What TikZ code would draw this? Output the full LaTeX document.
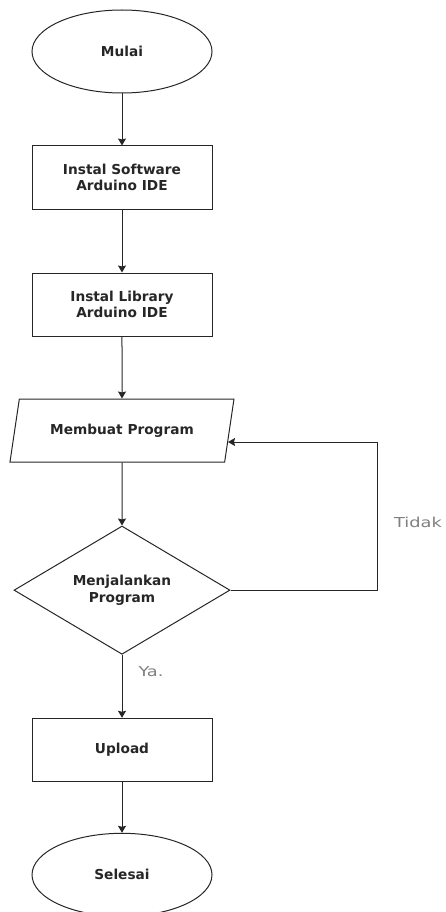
\documentclass[tikz,border=0pt]{standalone}
\usepackage{fontspec}
\setmainfont{DejaVu Sans}
\newfontfamily\answerfont[FakeStretch=1.3]{DejaVu Sans}
\usetikzlibrary{arrows.meta,shapes,positioning}

\begin{document}
\begin{tikzpicture}[x=1pt,y=1pt,node distance=63pt,>={Stealth[width=8pt,length=7pt,inset=1pt]}]
  \tikzstyle{terminal}=[ellipse,draw=black!85,line width=1pt,minimum width=180pt,
                        minimum height=83pt,align=center,text=black!85,
                        font=\fontsize{13.7}{16.5}\selectfont\bfseries]
  \tikzstyle{process}=[terminal,rectangle,minimum height=63pt]
  \tikzstyle{io}=[process,trapezium,trapezium left angle=65,trapezium right angle=115,
                  trapezium stretches body,minimum width=224pt]
  \tikzstyle{decision}=[process,diamond,minimum width=216pt,minimum height=126pt,inner sep=0pt]
  \tikzstyle{pre}=[<-,line width=1pt,draw=black!85]
  \tikzstyle{answer}=[text=black!50,inner sep=0pt,font=\answerfont\fontsize{13.7}{16}\selectfont]
  \useasboundingbox (0,0) rectangle (445,-912);
  \node [terminal] (start) at (122,-51.5) {Mulai};
  \node [process] (software) [below=52pt of start] {Instal Software\\Arduino IDE}
    edge [pre] (start);
  \node [process] (library) [below=of software] {Instal Library\\Arduino IDE}
    edge [pre] (software);
  \node [io] (program) [below=62pt of library] {Membuat Program}
    edge [pre] (library);
  \node [decision] (run) [below=of program] {Menjalankan\\Program}
    edge [pre] (program);
  \node [process] (upload) [below=of run] {Upload}
    edge [pre] node [answer,pos=0.73,anchor=west,xshift=16pt] {Ya.} (run);
  \node [terminal] (finish) [below=51pt of upload] {Selesai}
    edge [pre] (upload);
  % jalur kembali
  \coordinate (back) at ([xshift=106pt,yshift=-11.5pt]program.center);
  \draw [->,line width=1pt,draw=black!85] (run.east) -- ++(147,0)
    |- node [answer,pos=0.23,anchor=west,xshift=16pt] {Tidak} (back);
\end{tikzpicture}
\end{document}
